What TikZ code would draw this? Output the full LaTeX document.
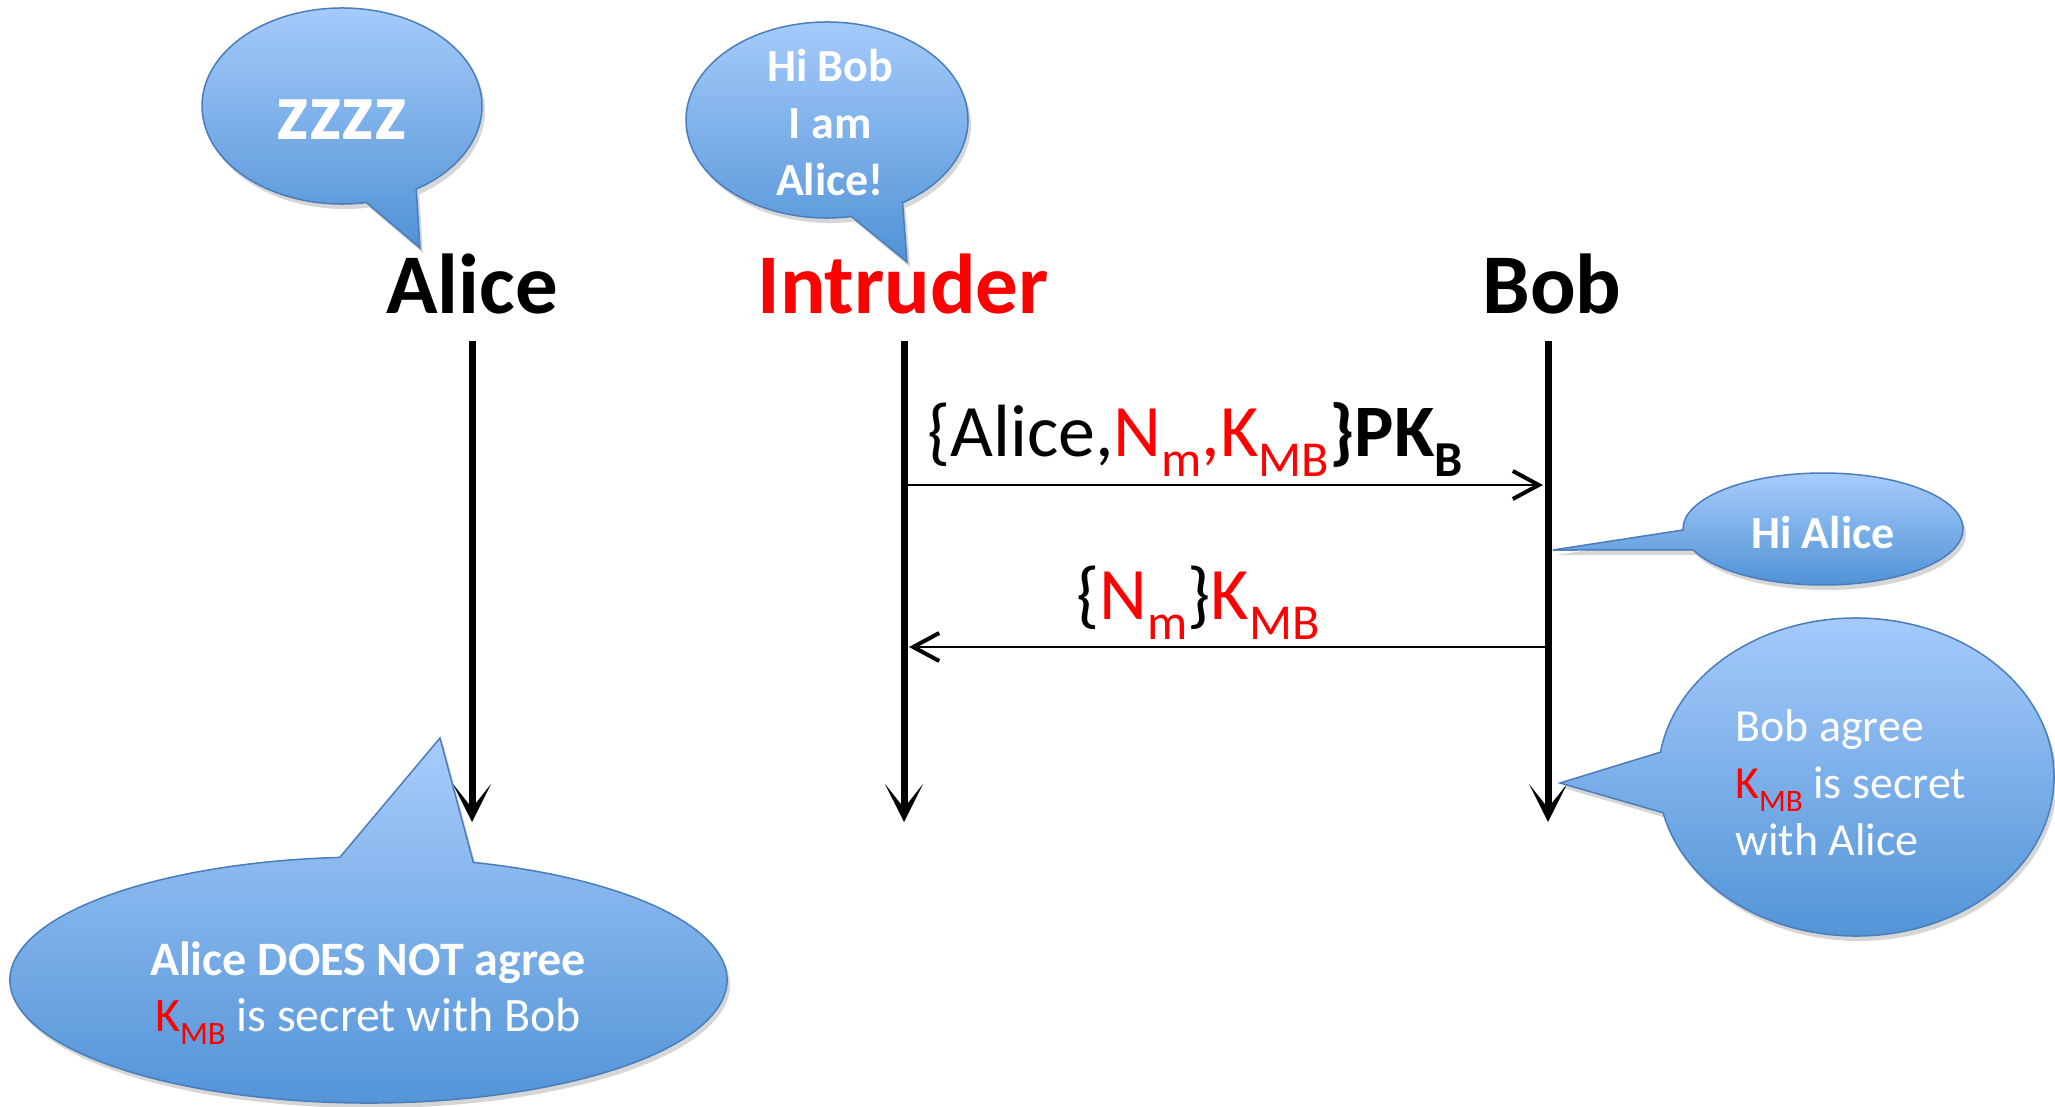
\documentclass[tikz,border=0pt]{standalone}
\usepackage{fontspec}
\setmainfont{Carlito}
\usepackage{graphicx}
\usetikzlibrary{arrows.meta}
\definecolor{bubtop}{RGB}{168,204,252}
\definecolor{bubbot}{RGB}{80,146,214}
\definecolor{bubline}{RGB}{74,126,187}
\definecolor{keyred}{RGB}{255,0,0}
\newcommand\lsub[1]{\raisebox{-0.28em}{\scalebox{0.68}{#1}}}
% speech bubble outline: cx, cy, rx, ry, angle a (base before tip), angle b (base after tip), tip x, tip y
\newcommand\speechpath[8]{(#1,#2) ++(#6:#3 and #4) arc[start angle=#6, end angle=#5+360, x radius=#3, y radius=#4] -- (#7,#8) -- cycle}
\begin{document}
\begin{tikzpicture}[x=1pt,y=-1pt,
  bubble/.style={draw=bubline, line width=1.5pt, top color=bubtop, bottom color=bubbot},
  bshadow/.style={fill=black, opacity=0.16},
  lifeline/.style={line width=7pt, -{Stealth[length=38pt,width=38pt,inset=24pt]}},
  msg/.style={line width=2pt, -{Straight Barb[length=26pt,width=28pt,line width=4pt]}},
  actor/.style={font=\fontsize{85}{90}\selectfont\bfseries, inner sep=0pt, anchor=base},
  msgtext/.style={font=\fontsize{74}{80}\selectfont, inner sep=0pt, anchor=base},
  btext/.style={text=white, inner sep=0pt},
]
\fill[white] (0,0) rectangle (2055,1107);
\useasboundingbox (0,0) rectangle (2055,1107);

% shadows
\begin{scope}[transform canvas={xshift=3pt,yshift=-5pt}]
  \fill[bshadow] \speechpath{342}{106}{140}{98}{58}{80}{420}{248};
  \fill[bshadow] \speechpath{827}{120}{141}{98}{57.6}{80}{907}{262};
  \fill[bshadow] \speechpath{1823}{529}{140}{56}{158}{179}{1553}{550};
  \fill[bshadow] \speechpath{1856}{777}{198}{159}{167}{189}{1560}{783};
  \fill[bshadow] \speechpath{368.5}{980}{358.5}{123}{265.4}{287}{440}{738};
\end{scope}

% actors
\node[actor] (alice) at (472,313) {Alice};
\node[actor, text=keyred] (intruder) at (903,313) {Intruder};
\node[actor] (bob) at (1552,313) {Bob};

% lifelines
\coordinate (aTop) at (472,341);
\coordinate (aEnd) at (472,822);
\coordinate (iTop) at (904,341);
\coordinate (iEnd) at (904,822);
\coordinate (bTop) at (1548,341);
\coordinate (bEnd) at (1548,822);
\draw[lifeline] (aTop) -- (aEnd);
\draw[lifeline] (iTop) -- (iEnd);
\draw[lifeline] (bTop) -- (bEnd);

% messages
\coordinate (m1s) at (907,485);
\coordinate (m1e) at (1543,485);
\coordinate (m2s) at (1545,647);
\coordinate (m2e) at (909,647);
\draw[msg] (m1s) -- (m1e);
\draw[msg] (m2s) -- (m2e);
\node[msgtext] (m1lab) at (1195,456) {\{Alice,\textcolor{keyred}{N\lsub{m},K\lsub{MB}}\textbf{\}PK\lsub{B}}};
\node[msgtext] (m2lab) at (1198,619) {\{\textcolor{keyred}{N\lsub{m}}\}\textcolor{keyred}{K\lsub{MB}}};

% bubbles
\path[bubble] \speechpath{342}{106}{140}{98}{58}{80}{420}{248};
\path[bubble] \speechpath{827}{120}{141}{98}{57.6}{80}{907}{262};
\path[bubble] \speechpath{1823}{529}{140}{56}{158}{179}{1553}{550};
\path[bubble] \speechpath{1856}{777}{198}{159}{167}{189}{1560}{783};
\path[bubble] \speechpath{368.5}{980}{358.5}{123}{265.4}{287}{440}{738};

% bubble texts
\node[btext, font=\fontsize{82}{82}\selectfont\bfseries, anchor=base] (zzz) at (342,140) {zzzz};
\node[btext, font=\fontsize{46}{57}\selectfont\bfseries, align=center] (hibob) at (830,123) {Hi Bob\\I am\\Alice!};
\node[btext, font=\fontsize{46}{57}\selectfont\bfseries, anchor=base] (hialice) at (1823,548) {Hi Alice};
\node[btext, font=\fontsize{46}{57}\selectfont, align=left, anchor=north west] (bobagree) at (1735,709) {Bob agree\\\textcolor{keyred}{K\lsub{MB}} is secret\\with Alice};
\node[btext, font=\fontsize{48}{56}\selectfont, align=center] (alicenot) at (368,993) {\textbf{Alice DOES NOT agree}\\\textcolor{keyred}{K\lsub{MB}} is secret with Bob};
\end{tikzpicture}
\end{document}
